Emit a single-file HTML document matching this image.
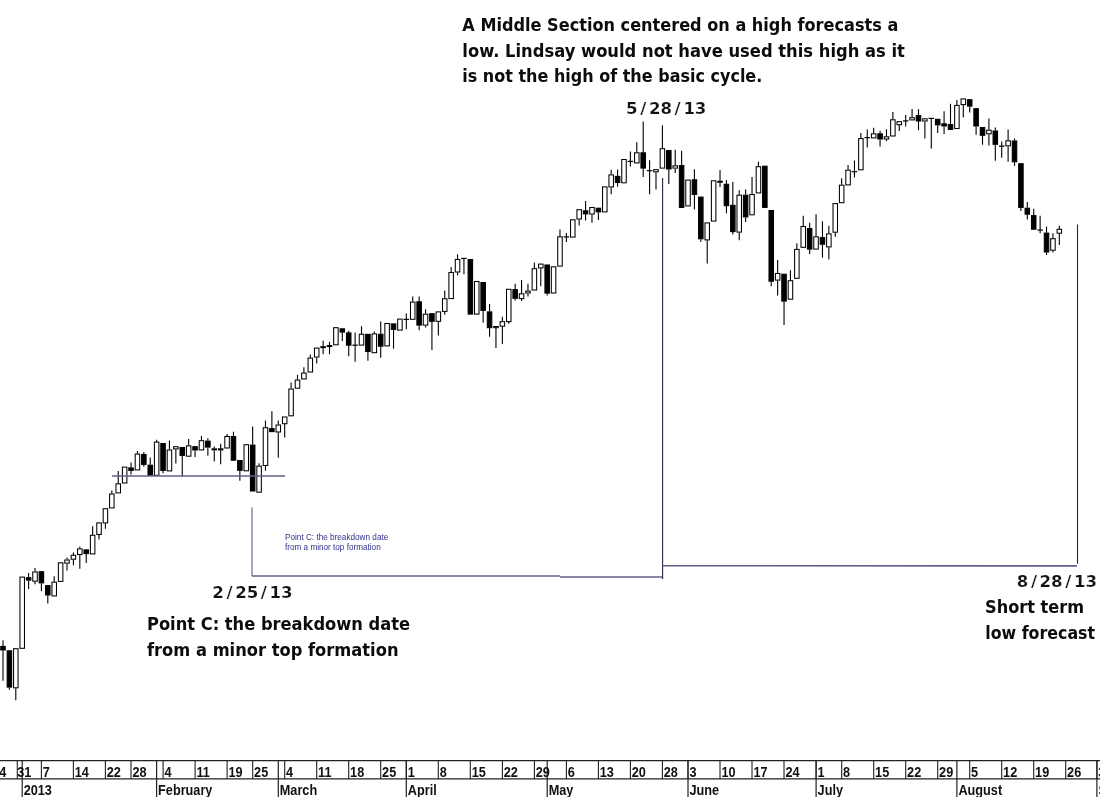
<!DOCTYPE html>
<html lang="en"><head><meta charset="utf-8"><title>Middle Section forecast chart</title>
<style>
html,body{margin:0;padding:0;background:#fff;}
body{width:1100px;height:797px;overflow:hidden;position:relative;}
svg{position:absolute;left:0;top:0;display:block;}
#all{filter:blur(0.3px);}
.ann{font-family:"DejaVu Sans",sans-serif;font-weight:bold;font-size:16.9px;fill:#0c0c0c;}
.date{font-family:"DejaVu Sans",sans-serif;font-weight:bold;font-size:16.6px;fill:#111;stroke:#fff;stroke-width:0.2px;}
.sl{font-size:19.5px;}
.ax{font-family:"Liberation Sans",sans-serif;font-weight:bold;font-size:14.6px;fill:#111;}
.sm{font-family:"Liberation Sans",sans-serif;font-size:8.8px;fill:#30308c;}
</style></head><body>
<svg width="1100" height="797" viewBox="0 0 1100 797">
<rect x="0" y="0" width="1100" height="797" fill="#ffffff"/>
<g id="all">
<g id="candles">
<line x1="3.00" y1="640.2" x2="3.00" y2="646.0" stroke="#000" stroke-width="1.1"/>
<line x1="3.00" y1="650.4" x2="3.00" y2="680.7" stroke="#000" stroke-width="1.1"/>
<rect x="0.75" y="646.4" width="4.5" height="3.6" fill="#000" stroke="#000" stroke-width="1.05"/>
<line x1="9.40" y1="687.5" x2="9.40" y2="689.7" stroke="#000" stroke-width="1.1"/>
<rect x="7.15" y="650.8" width="4.5" height="36.3" fill="#000" stroke="#000" stroke-width="1.05"/>
<line x1="15.80" y1="688.2" x2="15.80" y2="700.3" stroke="#000" stroke-width="1.1"/>
<rect x="13.55" y="648.7" width="4.5" height="39.1" fill="#fff" stroke="#000" stroke-width="1.05"/>
<rect x="19.96" y="577.1" width="4.5" height="71.2" fill="#fff" stroke="#000" stroke-width="1.05"/>
<line x1="28.61" y1="573.0" x2="28.61" y2="577.3" stroke="#000" stroke-width="1.1"/>
<line x1="28.61" y1="580.5" x2="28.61" y2="589.0" stroke="#000" stroke-width="1.1"/>
<rect x="26.36" y="577.7" width="4.5" height="2.4" fill="#000" stroke="#000" stroke-width="1.05"/>
<line x1="35.01" y1="568.1" x2="35.01" y2="571.6" stroke="#000" stroke-width="1.1"/>
<line x1="35.01" y1="581.6" x2="35.01" y2="584.3" stroke="#000" stroke-width="1.1"/>
<rect x="32.76" y="572.0" width="4.5" height="9.2" fill="#fff" stroke="#000" stroke-width="1.05"/>
<line x1="41.41" y1="583.3" x2="41.41" y2="591.2" stroke="#000" stroke-width="1.1"/>
<rect x="39.16" y="571.7" width="4.5" height="11.2" fill="#000" stroke="#000" stroke-width="1.05"/>
<line x1="47.81" y1="595.4" x2="47.81" y2="603.5" stroke="#000" stroke-width="1.1"/>
<rect x="45.56" y="585.6" width="4.5" height="9.4" fill="#000" stroke="#000" stroke-width="1.05"/>
<line x1="54.22" y1="576.2" x2="54.22" y2="581.8" stroke="#000" stroke-width="1.1"/>
<rect x="51.97" y="582.2" width="4.5" height="13.7" fill="#fff" stroke="#000" stroke-width="1.05"/>
<rect x="58.37" y="562.8" width="4.5" height="18.6" fill="#fff" stroke="#000" stroke-width="1.05"/>
<line x1="67.02" y1="557.5" x2="67.02" y2="559.6" stroke="#000" stroke-width="1.1"/>
<line x1="67.02" y1="563.5" x2="67.02" y2="570.5" stroke="#000" stroke-width="1.1"/>
<rect x="64.77" y="560.0" width="4.5" height="3.1" fill="#fff" stroke="#000" stroke-width="1.05"/>
<line x1="73.42" y1="552.4" x2="73.42" y2="554.9" stroke="#000" stroke-width="1.1"/>
<line x1="73.42" y1="559.6" x2="73.42" y2="565.2" stroke="#000" stroke-width="1.1"/>
<rect x="71.17" y="555.3" width="4.5" height="3.9" fill="#fff" stroke="#000" stroke-width="1.05"/>
<line x1="79.82" y1="546.4" x2="79.82" y2="548.5" stroke="#000" stroke-width="1.1"/>
<line x1="79.82" y1="554.9" x2="79.82" y2="568.8" stroke="#000" stroke-width="1.1"/>
<rect x="77.57" y="548.9" width="4.5" height="5.6" fill="#fff" stroke="#000" stroke-width="1.05"/>
<line x1="86.23" y1="554.0" x2="86.23" y2="563.0" stroke="#000" stroke-width="1.1"/>
<rect x="83.98" y="549.9" width="4.5" height="3.7" fill="#000" stroke="#000" stroke-width="1.05"/>
<line x1="92.63" y1="526.3" x2="92.63" y2="534.9" stroke="#000" stroke-width="1.1"/>
<rect x="90.38" y="535.3" width="4.5" height="18.6" fill="#fff" stroke="#000" stroke-width="1.05"/>
<line x1="99.03" y1="534.9" x2="99.03" y2="539.6" stroke="#000" stroke-width="1.1"/>
<rect x="96.78" y="522.9" width="4.5" height="11.6" fill="#fff" stroke="#000" stroke-width="1.05"/>
<line x1="105.43" y1="523.3" x2="105.43" y2="528.7" stroke="#000" stroke-width="1.1"/>
<rect x="103.18" y="508.7" width="4.5" height="14.2" fill="#fff" stroke="#000" stroke-width="1.05"/>
<line x1="111.83" y1="490.4" x2="111.83" y2="493.6" stroke="#000" stroke-width="1.1"/>
<rect x="109.58" y="494.0" width="4.5" height="13.9" fill="#fff" stroke="#000" stroke-width="1.05"/>
<line x1="118.24" y1="471.1" x2="118.24" y2="483.4" stroke="#000" stroke-width="1.1"/>
<rect x="115.99" y="483.8" width="4.5" height="9.1" fill="#fff" stroke="#000" stroke-width="1.05"/>
<rect x="122.39" y="467.1" width="4.5" height="15.9" fill="#fff" stroke="#000" stroke-width="1.05"/>
<line x1="131.04" y1="462.6" x2="131.04" y2="467.5" stroke="#000" stroke-width="1.1"/>
<line x1="131.04" y1="470.8" x2="131.04" y2="474.4" stroke="#000" stroke-width="1.1"/>
<rect x="128.79" y="467.9" width="4.5" height="2.5" fill="#000" stroke="#000" stroke-width="1.05"/>
<line x1="137.44" y1="450.9" x2="137.44" y2="453.7" stroke="#000" stroke-width="1.1"/>
<rect x="135.19" y="454.1" width="4.5" height="15.8" fill="#fff" stroke="#000" stroke-width="1.05"/>
<line x1="143.84" y1="452.0" x2="143.84" y2="454.1" stroke="#000" stroke-width="1.1"/>
<line x1="143.84" y1="464.8" x2="143.84" y2="466.7" stroke="#000" stroke-width="1.1"/>
<rect x="141.59" y="454.5" width="4.5" height="9.9" fill="#000" stroke="#000" stroke-width="1.05"/>
<line x1="150.25" y1="457.4" x2="150.25" y2="464.8" stroke="#000" stroke-width="1.1"/>
<rect x="148.00" y="465.2" width="4.5" height="10.1" fill="#000" stroke="#000" stroke-width="1.05"/>
<line x1="156.65" y1="439.8" x2="156.65" y2="441.7" stroke="#000" stroke-width="1.1"/>
<rect x="154.40" y="442.1" width="4.5" height="33.2" fill="#fff" stroke="#000" stroke-width="1.05"/>
<line x1="163.05" y1="470.8" x2="163.05" y2="473.2" stroke="#000" stroke-width="1.1"/>
<rect x="160.80" y="443.5" width="4.5" height="26.9" fill="#000" stroke="#000" stroke-width="1.05"/>
<line x1="169.45" y1="440.6" x2="169.45" y2="449.6" stroke="#000" stroke-width="1.1"/>
<rect x="167.20" y="450.0" width="4.5" height="20.9" fill="#fff" stroke="#000" stroke-width="1.05"/>
<line x1="175.85" y1="449.3" x2="175.85" y2="463.4" stroke="#000" stroke-width="1.1"/>
<rect x="173.60" y="446.7" width="4.5" height="2.2" fill="#fff" stroke="#000" stroke-width="1.05"/>
<line x1="182.26" y1="455.8" x2="182.26" y2="476.2" stroke="#000" stroke-width="1.1"/>
<rect x="180.01" y="447.5" width="4.5" height="7.9" fill="#000" stroke="#000" stroke-width="1.05"/>
<line x1="188.66" y1="439.0" x2="188.66" y2="445.5" stroke="#000" stroke-width="1.1"/>
<rect x="186.41" y="445.9" width="4.5" height="10.3" fill="#fff" stroke="#000" stroke-width="1.05"/>
<line x1="195.06" y1="450.4" x2="195.06" y2="456.9" stroke="#000" stroke-width="1.1"/>
<rect x="192.81" y="446.7" width="4.5" height="3.3" fill="#000" stroke="#000" stroke-width="1.05"/>
<line x1="201.46" y1="436.0" x2="201.46" y2="440.3" stroke="#000" stroke-width="1.1"/>
<rect x="199.21" y="440.7" width="4.5" height="9.2" fill="#fff" stroke="#000" stroke-width="1.05"/>
<line x1="207.86" y1="438.2" x2="207.86" y2="440.7" stroke="#000" stroke-width="1.1"/>
<line x1="207.86" y1="447.5" x2="207.86" y2="455.7" stroke="#000" stroke-width="1.1"/>
<rect x="205.61" y="441.1" width="4.5" height="6.0" fill="#000" stroke="#000" stroke-width="1.05"/>
<line x1="214.27" y1="446.4" x2="214.27" y2="448.5" stroke="#000" stroke-width="1.1"/>
<line x1="214.27" y1="450.2" x2="214.27" y2="461.6" stroke="#000" stroke-width="1.1"/>
<rect x="212.02" y="448.9" width="4.5" height="0.9" fill="#000" stroke="#000" stroke-width="1.05"/>
<line x1="220.67" y1="443.8" x2="220.67" y2="448.4" stroke="#000" stroke-width="1.1"/>
<line x1="220.67" y1="450.3" x2="220.67" y2="464.2" stroke="#000" stroke-width="1.1"/>
<rect x="218.42" y="448.8" width="4.5" height="1.1" fill="#fff" stroke="#000" stroke-width="1.05"/>
<line x1="227.07" y1="434.1" x2="227.07" y2="436.1" stroke="#000" stroke-width="1.1"/>
<rect x="224.82" y="436.5" width="4.5" height="11.5" fill="#fff" stroke="#000" stroke-width="1.05"/>
<line x1="233.47" y1="431.7" x2="233.47" y2="436.1" stroke="#000" stroke-width="1.1"/>
<rect x="231.22" y="436.5" width="4.5" height="23.7" fill="#000" stroke="#000" stroke-width="1.05"/>
<line x1="239.87" y1="470.7" x2="239.87" y2="480.8" stroke="#000" stroke-width="1.1"/>
<rect x="237.62" y="460.5" width="4.5" height="9.8" fill="#000" stroke="#000" stroke-width="1.05"/>
<rect x="244.03" y="444.7" width="4.5" height="26.1" fill="#fff" stroke="#000" stroke-width="1.05"/>
<line x1="252.68" y1="426.4" x2="252.68" y2="444.7" stroke="#000" stroke-width="1.1"/>
<rect x="250.43" y="445.1" width="4.5" height="45.9" fill="#000" stroke="#000" stroke-width="1.05"/>
<line x1="259.08" y1="463.3" x2="259.08" y2="465.7" stroke="#000" stroke-width="1.1"/>
<rect x="256.83" y="466.1" width="4.5" height="26.1" fill="#fff" stroke="#000" stroke-width="1.05"/>
<line x1="265.48" y1="420.6" x2="265.48" y2="427.3" stroke="#000" stroke-width="1.1"/>
<line x1="265.48" y1="465.9" x2="265.48" y2="470.7" stroke="#000" stroke-width="1.1"/>
<rect x="263.23" y="427.7" width="4.5" height="37.8" fill="#fff" stroke="#000" stroke-width="1.05"/>
<line x1="271.88" y1="411.3" x2="271.88" y2="428.2" stroke="#000" stroke-width="1.1"/>
<rect x="269.63" y="428.6" width="4.5" height="3.0" fill="#000" stroke="#000" stroke-width="1.05"/>
<line x1="278.29" y1="420.6" x2="278.29" y2="424.6" stroke="#000" stroke-width="1.1"/>
<line x1="278.29" y1="432.4" x2="278.29" y2="457.8" stroke="#000" stroke-width="1.1"/>
<rect x="276.04" y="425.0" width="4.5" height="7.0" fill="#fff" stroke="#000" stroke-width="1.05"/>
<line x1="284.69" y1="424.1" x2="284.69" y2="437.6" stroke="#000" stroke-width="1.1"/>
<rect x="282.44" y="417.0" width="4.5" height="6.7" fill="#fff" stroke="#000" stroke-width="1.05"/>
<line x1="291.09" y1="382.4" x2="291.09" y2="388.6" stroke="#000" stroke-width="1.1"/>
<rect x="288.84" y="389.0" width="4.5" height="26.8" fill="#fff" stroke="#000" stroke-width="1.05"/>
<line x1="297.49" y1="374.9" x2="297.49" y2="379.7" stroke="#000" stroke-width="1.1"/>
<rect x="295.24" y="380.1" width="4.5" height="8.1" fill="#fff" stroke="#000" stroke-width="1.05"/>
<line x1="303.89" y1="367.3" x2="303.89" y2="372.7" stroke="#000" stroke-width="1.1"/>
<rect x="301.64" y="373.1" width="4.5" height="5.9" fill="#fff" stroke="#000" stroke-width="1.05"/>
<line x1="310.30" y1="354.6" x2="310.30" y2="357.7" stroke="#000" stroke-width="1.1"/>
<rect x="308.05" y="358.1" width="4.5" height="13.9" fill="#fff" stroke="#000" stroke-width="1.05"/>
<line x1="316.70" y1="357.4" x2="316.70" y2="363.6" stroke="#000" stroke-width="1.1"/>
<rect x="314.45" y="348.1" width="4.5" height="8.9" fill="#fff" stroke="#000" stroke-width="1.05"/>
<line x1="323.10" y1="340.8" x2="323.10" y2="346.3" stroke="#000" stroke-width="1.1"/>
<line x1="323.10" y1="347.7" x2="323.10" y2="354.2" stroke="#000" stroke-width="1.1"/>
<rect x="320.85" y="346.7" width="4.5" height="0.9" fill="#000" stroke="#000" stroke-width="1.05"/>
<line x1="329.50" y1="341.8" x2="329.50" y2="345.2" stroke="#000" stroke-width="1.1"/>
<line x1="329.50" y1="346.6" x2="329.50" y2="354.2" stroke="#000" stroke-width="1.1"/>
<rect x="327.25" y="345.6" width="4.5" height="0.9" fill="#000" stroke="#000" stroke-width="1.05"/>
<rect x="333.65" y="327.7" width="4.5" height="17.1" fill="#fff" stroke="#000" stroke-width="1.05"/>
<line x1="342.31" y1="332.5" x2="342.31" y2="341.1" stroke="#000" stroke-width="1.1"/>
<rect x="340.06" y="328.8" width="4.5" height="3.3" fill="#000" stroke="#000" stroke-width="1.05"/>
<line x1="348.71" y1="330.7" x2="348.71" y2="332.5" stroke="#000" stroke-width="1.1"/>
<line x1="348.71" y1="345.6" x2="348.71" y2="356.3" stroke="#000" stroke-width="1.1"/>
<rect x="346.46" y="332.9" width="4.5" height="12.3" fill="#000" stroke="#000" stroke-width="1.05"/>
<line x1="355.11" y1="332.5" x2="355.11" y2="345.2" stroke="#000" stroke-width="1.1"/>
<line x1="355.11" y1="345.2" x2="355.11" y2="361.8" stroke="#000" stroke-width="1.1"/>
<line x1="352.36" y1="345.2" x2="357.86" y2="345.2" stroke="#000" stroke-width="1.2"/>
<line x1="361.51" y1="326.2" x2="361.51" y2="333.9" stroke="#000" stroke-width="1.1"/>
<rect x="359.26" y="334.3" width="4.5" height="10.8" fill="#fff" stroke="#000" stroke-width="1.05"/>
<line x1="367.91" y1="351.9" x2="367.91" y2="360.7" stroke="#000" stroke-width="1.1"/>
<rect x="365.66" y="334.3" width="4.5" height="17.2" fill="#000" stroke="#000" stroke-width="1.05"/>
<line x1="374.32" y1="331.4" x2="374.32" y2="333.5" stroke="#000" stroke-width="1.1"/>
<rect x="372.07" y="333.9" width="4.5" height="18.8" fill="#fff" stroke="#000" stroke-width="1.05"/>
<line x1="380.72" y1="321.5" x2="380.72" y2="333.9" stroke="#000" stroke-width="1.1"/>
<line x1="380.72" y1="346.6" x2="380.72" y2="357.7" stroke="#000" stroke-width="1.1"/>
<rect x="378.47" y="334.3" width="4.5" height="11.9" fill="#000" stroke="#000" stroke-width="1.05"/>
<rect x="384.87" y="323.5" width="4.5" height="22.4" fill="#fff" stroke="#000" stroke-width="1.05"/>
<line x1="393.52" y1="329.8" x2="393.52" y2="348.7" stroke="#000" stroke-width="1.1"/>
<rect x="391.27" y="323.9" width="4.5" height="5.5" fill="#000" stroke="#000" stroke-width="1.05"/>
<rect x="397.67" y="319.1" width="4.5" height="11.0" fill="#fff" stroke="#000" stroke-width="1.05"/>
<line x1="406.33" y1="313.5" x2="406.33" y2="319.4" stroke="#000" stroke-width="1.1"/>
<line x1="406.33" y1="319.4" x2="406.33" y2="329.3" stroke="#000" stroke-width="1.1"/>
<line x1="403.58" y1="319.4" x2="409.08" y2="319.4" stroke="#000" stroke-width="1.2"/>
<line x1="412.73" y1="296.6" x2="412.73" y2="301.7" stroke="#000" stroke-width="1.1"/>
<rect x="410.48" y="302.1" width="4.5" height="17.2" fill="#fff" stroke="#000" stroke-width="1.05"/>
<line x1="419.13" y1="296.5" x2="419.13" y2="301.4" stroke="#000" stroke-width="1.1"/>
<line x1="419.13" y1="325.5" x2="419.13" y2="330.3" stroke="#000" stroke-width="1.1"/>
<rect x="416.88" y="301.8" width="4.5" height="23.3" fill="#000" stroke="#000" stroke-width="1.05"/>
<line x1="425.53" y1="309.2" x2="425.53" y2="313.8" stroke="#000" stroke-width="1.1"/>
<line x1="425.53" y1="325.5" x2="425.53" y2="327.6" stroke="#000" stroke-width="1.1"/>
<rect x="423.28" y="314.2" width="4.5" height="10.9" fill="#fff" stroke="#000" stroke-width="1.05"/>
<line x1="431.93" y1="321.7" x2="431.93" y2="349.9" stroke="#000" stroke-width="1.1"/>
<rect x="429.68" y="313.7" width="4.5" height="7.6" fill="#000" stroke="#000" stroke-width="1.05"/>
<line x1="438.34" y1="321.7" x2="438.34" y2="335.6" stroke="#000" stroke-width="1.1"/>
<rect x="436.09" y="311.9" width="4.5" height="9.4" fill="#fff" stroke="#000" stroke-width="1.05"/>
<line x1="444.74" y1="290.4" x2="444.74" y2="298.4" stroke="#000" stroke-width="1.1"/>
<line x1="444.74" y1="311.8" x2="444.74" y2="314.8" stroke="#000" stroke-width="1.1"/>
<rect x="442.49" y="298.8" width="4.5" height="12.6" fill="#fff" stroke="#000" stroke-width="1.05"/>
<line x1="451.14" y1="267.1" x2="451.14" y2="272.1" stroke="#000" stroke-width="1.1"/>
<rect x="448.89" y="272.5" width="4.5" height="26.1" fill="#fff" stroke="#000" stroke-width="1.05"/>
<line x1="457.54" y1="254.3" x2="457.54" y2="259.1" stroke="#000" stroke-width="1.1"/>
<line x1="457.54" y1="272.4" x2="457.54" y2="275.4" stroke="#000" stroke-width="1.1"/>
<rect x="455.29" y="259.5" width="4.5" height="12.5" fill="#fff" stroke="#000" stroke-width="1.05"/>
<line x1="463.94" y1="258.4" x2="463.94" y2="274.3" stroke="#000" stroke-width="1.1"/>
<line x1="461.19" y1="258.4" x2="466.69" y2="258.4" stroke="#000" stroke-width="1.2"/>
<rect x="468.10" y="259.5" width="4.5" height="54.6" fill="#000" stroke="#000" stroke-width="1.05"/>
<rect x="474.50" y="281.5" width="4.5" height="32.6" fill="#fff" stroke="#000" stroke-width="1.05"/>
<line x1="483.15" y1="310.8" x2="483.15" y2="322.8" stroke="#000" stroke-width="1.1"/>
<rect x="480.90" y="282.5" width="4.5" height="27.9" fill="#000" stroke="#000" stroke-width="1.05"/>
<line x1="489.55" y1="304.0" x2="489.55" y2="311.5" stroke="#000" stroke-width="1.1"/>
<line x1="489.55" y1="328.1" x2="489.55" y2="336.8" stroke="#000" stroke-width="1.1"/>
<rect x="487.30" y="311.9" width="4.5" height="15.8" fill="#000" stroke="#000" stroke-width="1.05"/>
<line x1="495.95" y1="328.1" x2="495.95" y2="348.1" stroke="#000" stroke-width="1.1"/>
<rect x="493.70" y="326.5" width="4.5" height="1.2" fill="#fff" stroke="#000" stroke-width="1.05"/>
<line x1="502.36" y1="316.8" x2="502.36" y2="321.3" stroke="#000" stroke-width="1.1"/>
<line x1="502.36" y1="326.6" x2="502.36" y2="343.9" stroke="#000" stroke-width="1.1"/>
<rect x="500.11" y="321.7" width="4.5" height="4.5" fill="#fff" stroke="#000" stroke-width="1.05"/>
<line x1="508.76" y1="322.0" x2="508.76" y2="323.8" stroke="#000" stroke-width="1.1"/>
<rect x="506.51" y="289.3" width="4.5" height="32.3" fill="#fff" stroke="#000" stroke-width="1.05"/>
<line x1="515.16" y1="283.7" x2="515.16" y2="289.2" stroke="#000" stroke-width="1.1"/>
<line x1="515.16" y1="298.7" x2="515.16" y2="300.5" stroke="#000" stroke-width="1.1"/>
<rect x="512.91" y="289.6" width="4.5" height="8.7" fill="#000" stroke="#000" stroke-width="1.05"/>
<line x1="521.56" y1="279.9" x2="521.56" y2="293.4" stroke="#000" stroke-width="1.1"/>
<line x1="521.56" y1="299.0" x2="521.56" y2="301.0" stroke="#000" stroke-width="1.1"/>
<rect x="519.31" y="293.8" width="4.5" height="4.8" fill="#fff" stroke="#000" stroke-width="1.05"/>
<line x1="527.96" y1="283.7" x2="527.96" y2="290.7" stroke="#000" stroke-width="1.1"/>
<line x1="527.96" y1="293.4" x2="527.96" y2="296.5" stroke="#000" stroke-width="1.1"/>
<rect x="525.71" y="291.1" width="4.5" height="1.9" fill="#fff" stroke="#000" stroke-width="1.05"/>
<line x1="534.37" y1="262.6" x2="534.37" y2="268.3" stroke="#000" stroke-width="1.1"/>
<rect x="532.12" y="268.7" width="4.5" height="21.3" fill="#fff" stroke="#000" stroke-width="1.05"/>
<line x1="540.77" y1="268.3" x2="540.77" y2="286.2" stroke="#000" stroke-width="1.1"/>
<rect x="538.52" y="264.1" width="4.5" height="3.8" fill="#fff" stroke="#000" stroke-width="1.05"/>
<line x1="547.17" y1="293.5" x2="547.17" y2="295.4" stroke="#000" stroke-width="1.1"/>
<rect x="544.92" y="265.0" width="4.5" height="28.1" fill="#000" stroke="#000" stroke-width="1.05"/>
<rect x="551.32" y="266.8" width="4.5" height="26.2" fill="#fff" stroke="#000" stroke-width="1.05"/>
<line x1="559.97" y1="229.4" x2="559.97" y2="236.4" stroke="#000" stroke-width="1.1"/>
<rect x="557.72" y="236.8" width="4.5" height="29.3" fill="#fff" stroke="#000" stroke-width="1.05"/>
<line x1="566.38" y1="233.0" x2="566.38" y2="236.9" stroke="#000" stroke-width="1.1"/>
<line x1="566.38" y1="236.9" x2="566.38" y2="242.0" stroke="#000" stroke-width="1.1"/>
<line x1="563.63" y1="236.9" x2="569.13" y2="236.9" stroke="#000" stroke-width="1.2"/>
<rect x="570.53" y="219.8" width="4.5" height="17.3" fill="#fff" stroke="#000" stroke-width="1.05"/>
<line x1="579.18" y1="219.4" x2="579.18" y2="225.6" stroke="#000" stroke-width="1.1"/>
<rect x="576.93" y="209.7" width="4.5" height="9.3" fill="#fff" stroke="#000" stroke-width="1.05"/>
<line x1="585.58" y1="201.1" x2="585.58" y2="210.4" stroke="#000" stroke-width="1.1"/>
<line x1="585.58" y1="214.3" x2="585.58" y2="220.6" stroke="#000" stroke-width="1.1"/>
<rect x="583.33" y="210.8" width="4.5" height="3.1" fill="#000" stroke="#000" stroke-width="1.05"/>
<line x1="591.98" y1="214.4" x2="591.98" y2="222.7" stroke="#000" stroke-width="1.1"/>
<rect x="589.73" y="207.5" width="4.5" height="6.5" fill="#fff" stroke="#000" stroke-width="1.05"/>
<line x1="598.39" y1="212.3" x2="598.39" y2="219.9" stroke="#000" stroke-width="1.1"/>
<rect x="596.14" y="208.2" width="4.5" height="3.7" fill="#000" stroke="#000" stroke-width="1.05"/>
<rect x="602.54" y="186.9" width="4.5" height="25.0" fill="#fff" stroke="#000" stroke-width="1.05"/>
<line x1="611.19" y1="169.7" x2="611.19" y2="174.5" stroke="#000" stroke-width="1.1"/>
<line x1="611.19" y1="187.3" x2="611.19" y2="194.2" stroke="#000" stroke-width="1.1"/>
<rect x="608.94" y="174.9" width="4.5" height="12.0" fill="#fff" stroke="#000" stroke-width="1.05"/>
<line x1="617.59" y1="169.4" x2="617.59" y2="176.0" stroke="#000" stroke-width="1.1"/>
<line x1="617.59" y1="182.9" x2="617.59" y2="186.7" stroke="#000" stroke-width="1.1"/>
<rect x="615.34" y="176.4" width="4.5" height="6.1" fill="#000" stroke="#000" stroke-width="1.05"/>
<rect x="621.74" y="159.5" width="4.5" height="23.3" fill="#fff" stroke="#000" stroke-width="1.05"/>
<line x1="630.40" y1="151.6" x2="630.40" y2="161.4" stroke="#000" stroke-width="1.1"/>
<line x1="630.40" y1="161.4" x2="630.40" y2="166.4" stroke="#000" stroke-width="1.1"/>
<line x1="627.65" y1="161.4" x2="633.15" y2="161.4" stroke="#000" stroke-width="1.2"/>
<line x1="636.80" y1="142.3" x2="636.80" y2="152.4" stroke="#000" stroke-width="1.1"/>
<rect x="634.55" y="152.8" width="4.5" height="10.1" fill="#fff" stroke="#000" stroke-width="1.05"/>
<line x1="643.20" y1="121.5" x2="643.20" y2="152.4" stroke="#000" stroke-width="1.1"/>
<line x1="643.20" y1="168.5" x2="643.20" y2="176.9" stroke="#000" stroke-width="1.1"/>
<rect x="640.95" y="152.8" width="4.5" height="15.3" fill="#000" stroke="#000" stroke-width="1.05"/>
<line x1="649.60" y1="160.3" x2="649.60" y2="170.7" stroke="#000" stroke-width="1.1"/>
<line x1="649.60" y1="170.7" x2="649.60" y2="194.2" stroke="#000" stroke-width="1.1"/>
<line x1="646.85" y1="170.7" x2="652.35" y2="170.7" stroke="#000" stroke-width="1.2"/>
<line x1="656.00" y1="172.2" x2="656.00" y2="189.5" stroke="#000" stroke-width="1.1"/>
<rect x="653.75" y="169.6" width="4.5" height="2.2" fill="#fff" stroke="#000" stroke-width="1.05"/>
<line x1="662.41" y1="125.3" x2="662.41" y2="148.3" stroke="#000" stroke-width="1.1"/>
<rect x="660.16" y="148.7" width="4.5" height="19.4" fill="#fff" stroke="#000" stroke-width="1.05"/>
<line x1="668.81" y1="169.4" x2="668.81" y2="184.0" stroke="#000" stroke-width="1.1"/>
<rect x="666.56" y="150.5" width="4.5" height="18.5" fill="#000" stroke="#000" stroke-width="1.05"/>
<line x1="675.21" y1="149.8" x2="675.21" y2="165.4" stroke="#000" stroke-width="1.1"/>
<line x1="675.21" y1="168.5" x2="675.21" y2="173.0" stroke="#000" stroke-width="1.1"/>
<rect x="672.96" y="165.8" width="4.5" height="2.3" fill="#fff" stroke="#000" stroke-width="1.05"/>
<line x1="681.61" y1="150.8" x2="681.61" y2="165.1" stroke="#000" stroke-width="1.1"/>
<rect x="679.36" y="165.5" width="4.5" height="41.9" fill="#000" stroke="#000" stroke-width="1.05"/>
<rect x="685.76" y="180.1" width="4.5" height="25.8" fill="#fff" stroke="#000" stroke-width="1.05"/>
<line x1="694.42" y1="169.3" x2="694.42" y2="179.4" stroke="#000" stroke-width="1.1"/>
<line x1="694.42" y1="194.8" x2="694.42" y2="209.6" stroke="#000" stroke-width="1.1"/>
<rect x="692.17" y="179.8" width="4.5" height="14.6" fill="#000" stroke="#000" stroke-width="1.05"/>
<line x1="700.82" y1="239.2" x2="700.82" y2="242.1" stroke="#000" stroke-width="1.1"/>
<rect x="698.57" y="197.1" width="4.5" height="41.7" fill="#000" stroke="#000" stroke-width="1.05"/>
<line x1="707.22" y1="240.3" x2="707.22" y2="263.6" stroke="#000" stroke-width="1.1"/>
<rect x="704.97" y="222.9" width="4.5" height="17.0" fill="#fff" stroke="#000" stroke-width="1.05"/>
<rect x="711.37" y="180.8" width="4.5" height="40.3" fill="#fff" stroke="#000" stroke-width="1.05"/>
<line x1="720.02" y1="170.0" x2="720.02" y2="180.9" stroke="#000" stroke-width="1.1"/>
<line x1="720.02" y1="182.4" x2="720.02" y2="186.9" stroke="#000" stroke-width="1.1"/>
<rect x="717.77" y="181.3" width="4.5" height="0.9" fill="#000" stroke="#000" stroke-width="1.05"/>
<line x1="726.43" y1="180.1" x2="726.43" y2="183.9" stroke="#000" stroke-width="1.1"/>
<line x1="726.43" y1="206.1" x2="726.43" y2="213.2" stroke="#000" stroke-width="1.1"/>
<rect x="724.18" y="184.3" width="4.5" height="21.4" fill="#000" stroke="#000" stroke-width="1.05"/>
<line x1="732.83" y1="182.1" x2="732.83" y2="204.9" stroke="#000" stroke-width="1.1"/>
<line x1="732.83" y1="232.0" x2="732.83" y2="234.6" stroke="#000" stroke-width="1.1"/>
<rect x="730.58" y="205.3" width="4.5" height="26.3" fill="#000" stroke="#000" stroke-width="1.05"/>
<line x1="739.23" y1="190.3" x2="739.23" y2="194.8" stroke="#000" stroke-width="1.1"/>
<line x1="739.23" y1="232.5" x2="739.23" y2="240.3" stroke="#000" stroke-width="1.1"/>
<rect x="736.98" y="195.2" width="4.5" height="36.9" fill="#fff" stroke="#000" stroke-width="1.05"/>
<line x1="745.63" y1="189.4" x2="745.63" y2="194.8" stroke="#000" stroke-width="1.1"/>
<line x1="745.63" y1="217.3" x2="745.63" y2="221.9" stroke="#000" stroke-width="1.1"/>
<rect x="743.38" y="195.2" width="4.5" height="21.7" fill="#000" stroke="#000" stroke-width="1.05"/>
<line x1="752.03" y1="177.1" x2="752.03" y2="194.1" stroke="#000" stroke-width="1.1"/>
<rect x="749.78" y="194.5" width="4.5" height="20.3" fill="#fff" stroke="#000" stroke-width="1.05"/>
<line x1="758.44" y1="161.7" x2="758.44" y2="166.3" stroke="#000" stroke-width="1.1"/>
<rect x="756.19" y="166.7" width="4.5" height="26.2" fill="#fff" stroke="#000" stroke-width="1.05"/>
<rect x="762.59" y="166.2" width="4.5" height="41.2" fill="#000" stroke="#000" stroke-width="1.05"/>
<line x1="771.24" y1="281.6" x2="771.24" y2="286.2" stroke="#000" stroke-width="1.1"/>
<rect x="768.99" y="210.5" width="4.5" height="70.7" fill="#000" stroke="#000" stroke-width="1.05"/>
<line x1="777.64" y1="260.1" x2="777.64" y2="273.1" stroke="#000" stroke-width="1.1"/>
<line x1="777.64" y1="280.5" x2="777.64" y2="295.5" stroke="#000" stroke-width="1.1"/>
<rect x="775.39" y="273.5" width="4.5" height="6.6" fill="#fff" stroke="#000" stroke-width="1.05"/>
<line x1="784.04" y1="301.5" x2="784.04" y2="324.9" stroke="#000" stroke-width="1.1"/>
<rect x="781.79" y="274.2" width="4.5" height="26.9" fill="#000" stroke="#000" stroke-width="1.05"/>
<line x1="790.45" y1="270.2" x2="790.45" y2="280.3" stroke="#000" stroke-width="1.1"/>
<rect x="788.20" y="280.7" width="4.5" height="18.5" fill="#fff" stroke="#000" stroke-width="1.05"/>
<line x1="796.85" y1="243.3" x2="796.85" y2="249.0" stroke="#000" stroke-width="1.1"/>
<rect x="794.60" y="249.4" width="4.5" height="28.9" fill="#fff" stroke="#000" stroke-width="1.05"/>
<line x1="803.25" y1="215.8" x2="803.25" y2="226.1" stroke="#000" stroke-width="1.1"/>
<rect x="801.00" y="226.5" width="4.5" height="20.8" fill="#fff" stroke="#000" stroke-width="1.05"/>
<line x1="809.65" y1="222.8" x2="809.65" y2="228.1" stroke="#000" stroke-width="1.1"/>
<line x1="809.65" y1="249.5" x2="809.65" y2="253.9" stroke="#000" stroke-width="1.1"/>
<rect x="807.40" y="228.5" width="4.5" height="20.6" fill="#000" stroke="#000" stroke-width="1.05"/>
<line x1="816.05" y1="214.2" x2="816.05" y2="236.4" stroke="#000" stroke-width="1.1"/>
<rect x="813.80" y="236.8" width="4.5" height="12.3" fill="#fff" stroke="#000" stroke-width="1.05"/>
<line x1="822.46" y1="221.2" x2="822.46" y2="237.2" stroke="#000" stroke-width="1.1"/>
<line x1="822.46" y1="244.6" x2="822.46" y2="257.6" stroke="#000" stroke-width="1.1"/>
<rect x="820.21" y="237.6" width="4.5" height="6.6" fill="#000" stroke="#000" stroke-width="1.05"/>
<line x1="828.86" y1="225.8" x2="828.86" y2="233.5" stroke="#000" stroke-width="1.1"/>
<line x1="828.86" y1="247.3" x2="828.86" y2="259.6" stroke="#000" stroke-width="1.1"/>
<rect x="826.61" y="233.9" width="4.5" height="13.0" fill="#fff" stroke="#000" stroke-width="1.05"/>
<line x1="835.26" y1="232.6" x2="835.26" y2="236.7" stroke="#000" stroke-width="1.1"/>
<rect x="833.01" y="203.6" width="4.5" height="28.6" fill="#fff" stroke="#000" stroke-width="1.05"/>
<line x1="841.66" y1="178.2" x2="841.66" y2="184.8" stroke="#000" stroke-width="1.1"/>
<rect x="839.41" y="185.2" width="4.5" height="17.5" fill="#fff" stroke="#000" stroke-width="1.05"/>
<line x1="848.06" y1="165.0" x2="848.06" y2="169.8" stroke="#000" stroke-width="1.1"/>
<rect x="845.81" y="170.2" width="4.5" height="14.7" fill="#fff" stroke="#000" stroke-width="1.05"/>
<line x1="854.47" y1="160.5" x2="854.47" y2="171.7" stroke="#000" stroke-width="1.1"/>
<line x1="854.47" y1="171.7" x2="854.47" y2="177.5" stroke="#000" stroke-width="1.1"/>
<line x1="851.72" y1="171.7" x2="857.22" y2="171.7" stroke="#000" stroke-width="1.2"/>
<line x1="860.87" y1="133.1" x2="860.87" y2="138.2" stroke="#000" stroke-width="1.1"/>
<rect x="858.62" y="138.6" width="4.5" height="31.2" fill="#fff" stroke="#000" stroke-width="1.05"/>
<line x1="867.27" y1="129.6" x2="867.27" y2="137.6" stroke="#000" stroke-width="1.1"/>
<line x1="867.27" y1="137.6" x2="867.27" y2="147.4" stroke="#000" stroke-width="1.1"/>
<line x1="864.52" y1="137.6" x2="870.02" y2="137.6" stroke="#000" stroke-width="1.2"/>
<line x1="873.67" y1="127.8" x2="873.67" y2="133.4" stroke="#000" stroke-width="1.1"/>
<rect x="871.42" y="133.8" width="4.5" height="4.1" fill="#fff" stroke="#000" stroke-width="1.05"/>
<line x1="880.07" y1="130.7" x2="880.07" y2="133.4" stroke="#000" stroke-width="1.1"/>
<line x1="880.07" y1="139.4" x2="880.07" y2="146.6" stroke="#000" stroke-width="1.1"/>
<rect x="877.82" y="133.8" width="4.5" height="5.2" fill="#000" stroke="#000" stroke-width="1.05"/>
<line x1="886.48" y1="129.3" x2="886.48" y2="136.4" stroke="#000" stroke-width="1.1"/>
<line x1="886.48" y1="139.4" x2="886.48" y2="141.2" stroke="#000" stroke-width="1.1"/>
<rect x="884.23" y="136.8" width="4.5" height="2.2" fill="#fff" stroke="#000" stroke-width="1.05"/>
<line x1="892.88" y1="112.0" x2="892.88" y2="119.4" stroke="#000" stroke-width="1.1"/>
<rect x="890.63" y="119.8" width="4.5" height="16.2" fill="#fff" stroke="#000" stroke-width="1.05"/>
<line x1="899.28" y1="125.1" x2="899.28" y2="131.1" stroke="#000" stroke-width="1.1"/>
<rect x="897.03" y="121.7" width="4.5" height="3.0" fill="#fff" stroke="#000" stroke-width="1.05"/>
<line x1="905.68" y1="115.0" x2="905.68" y2="120.9" stroke="#000" stroke-width="1.1"/>
<line x1="905.68" y1="120.9" x2="905.68" y2="126.6" stroke="#000" stroke-width="1.1"/>
<line x1="902.93" y1="120.9" x2="908.43" y2="120.9" stroke="#000" stroke-width="1.2"/>
<line x1="912.08" y1="109.0" x2="912.08" y2="117.3" stroke="#000" stroke-width="1.1"/>
<rect x="909.83" y="117.7" width="4.5" height="2.2" fill="#fff" stroke="#000" stroke-width="1.05"/>
<line x1="918.49" y1="109.2" x2="918.49" y2="115.2" stroke="#000" stroke-width="1.1"/>
<line x1="918.49" y1="121.4" x2="918.49" y2="130.1" stroke="#000" stroke-width="1.1"/>
<rect x="916.24" y="115.6" width="4.5" height="5.4" fill="#000" stroke="#000" stroke-width="1.05"/>
<line x1="924.89" y1="121.4" x2="924.89" y2="138.4" stroke="#000" stroke-width="1.1"/>
<rect x="922.64" y="118.8" width="4.5" height="2.2" fill="#fff" stroke="#000" stroke-width="1.05"/>
<line x1="931.29" y1="118.4" x2="931.29" y2="148.5" stroke="#000" stroke-width="1.1"/>
<line x1="928.54" y1="118.4" x2="934.04" y2="118.4" stroke="#000" stroke-width="1.2"/>
<line x1="937.69" y1="125.3" x2="937.69" y2="132.9" stroke="#000" stroke-width="1.1"/>
<rect x="935.44" y="119.3" width="4.5" height="5.6" fill="#000" stroke="#000" stroke-width="1.05"/>
<line x1="944.09" y1="111.3" x2="944.09" y2="123.4" stroke="#000" stroke-width="1.1"/>
<line x1="944.09" y1="126.4" x2="944.09" y2="133.9" stroke="#000" stroke-width="1.1"/>
<rect x="941.84" y="123.8" width="4.5" height="2.2" fill="#000" stroke="#000" stroke-width="1.05"/>
<line x1="950.50" y1="103.8" x2="950.50" y2="124.1" stroke="#000" stroke-width="1.1"/>
<rect x="948.25" y="124.5" width="4.5" height="4.9" fill="#000" stroke="#000" stroke-width="1.05"/>
<line x1="956.90" y1="100.0" x2="956.90" y2="105.0" stroke="#000" stroke-width="1.1"/>
<rect x="954.65" y="105.4" width="4.5" height="23.1" fill="#fff" stroke="#000" stroke-width="1.05"/>
<line x1="963.30" y1="105.0" x2="963.30" y2="117.4" stroke="#000" stroke-width="1.1"/>
<rect x="961.05" y="98.9" width="4.5" height="5.7" fill="#fff" stroke="#000" stroke-width="1.05"/>
<line x1="969.70" y1="106.5" x2="969.70" y2="112.5" stroke="#000" stroke-width="1.1"/>
<rect x="967.45" y="99.7" width="4.5" height="6.4" fill="#000" stroke="#000" stroke-width="1.05"/>
<line x1="976.10" y1="126.4" x2="976.10" y2="134.7" stroke="#000" stroke-width="1.1"/>
<rect x="973.85" y="108.7" width="4.5" height="17.3" fill="#000" stroke="#000" stroke-width="1.05"/>
<line x1="982.51" y1="135.7" x2="982.51" y2="144.7" stroke="#000" stroke-width="1.1"/>
<rect x="980.26" y="127.5" width="4.5" height="7.8" fill="#000" stroke="#000" stroke-width="1.05"/>
<line x1="988.91" y1="118.4" x2="988.91" y2="129.8" stroke="#000" stroke-width="1.1"/>
<line x1="988.91" y1="134.2" x2="988.91" y2="145.6" stroke="#000" stroke-width="1.1"/>
<rect x="986.66" y="130.2" width="4.5" height="3.6" fill="#fff" stroke="#000" stroke-width="1.05"/>
<line x1="995.31" y1="127.6" x2="995.31" y2="130.6" stroke="#000" stroke-width="1.1"/>
<line x1="995.31" y1="144.7" x2="995.31" y2="160.7" stroke="#000" stroke-width="1.1"/>
<rect x="993.06" y="131.0" width="4.5" height="13.3" fill="#000" stroke="#000" stroke-width="1.05"/>
<line x1="1001.71" y1="141.4" x2="1001.71" y2="146.2" stroke="#000" stroke-width="1.1"/>
<line x1="1001.71" y1="146.2" x2="1001.71" y2="157.7" stroke="#000" stroke-width="1.1"/>
<line x1="998.96" y1="146.2" x2="1004.46" y2="146.2" stroke="#000" stroke-width="1.2"/>
<line x1="1008.11" y1="129.4" x2="1008.11" y2="140.4" stroke="#000" stroke-width="1.1"/>
<line x1="1008.11" y1="146.2" x2="1008.11" y2="161.7" stroke="#000" stroke-width="1.1"/>
<rect x="1005.86" y="140.8" width="4.5" height="5.0" fill="#fff" stroke="#000" stroke-width="1.05"/>
<line x1="1014.52" y1="138.4" x2="1014.52" y2="140.6" stroke="#000" stroke-width="1.1"/>
<line x1="1014.52" y1="162.2" x2="1014.52" y2="165.9" stroke="#000" stroke-width="1.1"/>
<rect x="1012.27" y="141.0" width="4.5" height="20.8" fill="#000" stroke="#000" stroke-width="1.05"/>
<line x1="1020.92" y1="207.8" x2="1020.92" y2="211.1" stroke="#000" stroke-width="1.1"/>
<rect x="1018.67" y="163.7" width="4.5" height="43.7" fill="#000" stroke="#000" stroke-width="1.05"/>
<line x1="1027.32" y1="202.0" x2="1027.32" y2="207.8" stroke="#000" stroke-width="1.1"/>
<line x1="1027.32" y1="214.6" x2="1027.32" y2="219.6" stroke="#000" stroke-width="1.1"/>
<rect x="1025.07" y="208.2" width="4.5" height="6.0" fill="#000" stroke="#000" stroke-width="1.05"/>
<line x1="1033.72" y1="208.7" x2="1033.72" y2="215.2" stroke="#000" stroke-width="1.1"/>
<rect x="1031.47" y="215.6" width="4.5" height="13.6" fill="#000" stroke="#000" stroke-width="1.05"/>
<line x1="1040.12" y1="215.7" x2="1040.12" y2="230.1" stroke="#000" stroke-width="1.1"/>
<line x1="1040.12" y1="230.1" x2="1040.12" y2="233.2" stroke="#000" stroke-width="1.1"/>
<line x1="1037.37" y1="230.1" x2="1042.87" y2="230.1" stroke="#000" stroke-width="1.2"/>
<line x1="1046.53" y1="226.6" x2="1046.53" y2="232.7" stroke="#000" stroke-width="1.1"/>
<line x1="1046.53" y1="252.4" x2="1046.53" y2="255.0" stroke="#000" stroke-width="1.1"/>
<rect x="1044.28" y="233.1" width="4.5" height="18.9" fill="#000" stroke="#000" stroke-width="1.05"/>
<line x1="1052.93" y1="233.2" x2="1052.93" y2="238.3" stroke="#000" stroke-width="1.1"/>
<line x1="1052.93" y1="250.6" x2="1052.93" y2="252.4" stroke="#000" stroke-width="1.1"/>
<rect x="1050.68" y="238.7" width="4.5" height="11.5" fill="#fff" stroke="#000" stroke-width="1.05"/>
<line x1="1059.33" y1="225.7" x2="1059.33" y2="228.9" stroke="#000" stroke-width="1.1"/>
<line x1="1059.33" y1="233.6" x2="1059.33" y2="245.0" stroke="#000" stroke-width="1.1"/>
<rect x="1057.08" y="229.3" width="4.5" height="3.9" fill="#fff" stroke="#000" stroke-width="1.05"/>
</g>
<g fill="none">
<line x1="112" y1="476" x2="285" y2="476" stroke="#606086" stroke-width="1.6"/>
<line x1="252" y1="507.5" x2="252" y2="576" stroke="#606086" stroke-width="1.1"/>
<line x1="252" y1="576" x2="560" y2="576" stroke="#606086" stroke-width="1.6"/>
<line x1="560" y1="577" x2="663" y2="577" stroke="#606086" stroke-width="1.6"/>
<line x1="662.6" y1="178" x2="662.6" y2="579" stroke="#262640" stroke-width="1.1"/>
<line x1="662.6" y1="565.8" x2="1077" y2="565.9" stroke="#606086" stroke-width="1.6"/>
<line x1="1077.5" y1="224.5" x2="1077.5" y2="563.8" stroke="#262640" stroke-width="1.1"/>
</g>
<g stroke="#222" stroke-width="1.1" fill="none">
<line x1="0" y1="760.6" x2="1100" y2="760.6"/>
<line x1="0" y1="778.9" x2="1100" y2="778.9"/>
<line x1="17.3" y1="760.6" x2="17.3" y2="778.9"/>
<line x1="41.4" y1="760.6" x2="41.4" y2="778.9"/>
<line x1="73.4" y1="760.6" x2="73.4" y2="778.9"/>
<line x1="105.4" y1="760.6" x2="105.4" y2="778.9"/>
<line x1="131.0" y1="760.6" x2="131.0" y2="778.9"/>
<line x1="163.1" y1="760.6" x2="163.1" y2="778.9"/>
<line x1="195.1" y1="760.6" x2="195.1" y2="778.9"/>
<line x1="227.1" y1="760.6" x2="227.1" y2="778.9"/>
<line x1="252.7" y1="760.6" x2="252.7" y2="778.9"/>
<line x1="284.7" y1="760.6" x2="284.7" y2="778.9"/>
<line x1="316.7" y1="760.6" x2="316.7" y2="778.9"/>
<line x1="348.7" y1="760.6" x2="348.7" y2="778.9"/>
<line x1="380.7" y1="760.6" x2="380.7" y2="778.9"/>
<line x1="406.3" y1="760.6" x2="406.3" y2="778.9"/>
<line x1="438.3" y1="760.6" x2="438.3" y2="778.9"/>
<line x1="470.3" y1="760.6" x2="470.3" y2="778.9"/>
<line x1="502.4" y1="760.6" x2="502.4" y2="778.9"/>
<line x1="534.4" y1="760.6" x2="534.4" y2="778.9"/>
<line x1="566.4" y1="760.6" x2="566.4" y2="778.9"/>
<line x1="598.4" y1="760.6" x2="598.4" y2="778.9"/>
<line x1="630.4" y1="760.6" x2="630.4" y2="778.9"/>
<line x1="662.4" y1="760.6" x2="662.4" y2="778.9"/>
<line x1="688.0" y1="760.6" x2="688.0" y2="778.9"/>
<line x1="720.0" y1="760.6" x2="720.0" y2="778.9"/>
<line x1="752.0" y1="760.6" x2="752.0" y2="778.9"/>
<line x1="784.0" y1="760.6" x2="784.0" y2="778.9"/>
<line x1="816.1" y1="760.6" x2="816.1" y2="778.9"/>
<line x1="841.7" y1="760.6" x2="841.7" y2="778.9"/>
<line x1="873.7" y1="760.6" x2="873.7" y2="778.9"/>
<line x1="905.7" y1="760.6" x2="905.7" y2="778.9"/>
<line x1="937.7" y1="760.6" x2="937.7" y2="778.9"/>
<line x1="969.7" y1="760.6" x2="969.7" y2="778.9"/>
<line x1="1001.7" y1="760.6" x2="1001.7" y2="778.9"/>
<line x1="1033.7" y1="760.6" x2="1033.7" y2="778.9"/>
<line x1="1065.7" y1="760.6" x2="1065.7" y2="778.9"/>
<line x1="1096.9" y1="760.6" x2="1096.9" y2="778.9"/>
<line x1="22.2" y1="760.6" x2="22.2" y2="797" stroke="#222" stroke-width="1.2"/>
<line x1="156.6" y1="760.6" x2="156.6" y2="797" stroke="#222" stroke-width="1.2"/>
<line x1="278.3" y1="760.6" x2="278.3" y2="797" stroke="#222" stroke-width="1.2"/>
<line x1="406.3" y1="760.6" x2="406.3" y2="797" stroke="#222" stroke-width="1.2"/>
<line x1="547.2" y1="760.6" x2="547.2" y2="797" stroke="#222" stroke-width="1.2"/>
<line x1="688.0" y1="760.6" x2="688.0" y2="797" stroke="#222" stroke-width="1.2"/>
<line x1="816.1" y1="760.6" x2="816.1" y2="797" stroke="#222" stroke-width="1.2"/>
<line x1="956.9" y1="760.6" x2="956.9" y2="797" stroke="#222" stroke-width="1.2"/>
<line x1="1096.9" y1="760.6" x2="1096.9" y2="797" stroke="#222" stroke-width="1.2"/>
</g>
<g class="ax">
<text transform="translate(-7.8,776.6) scale(0.87,1)">24</text>
<text transform="translate(17.2,776.6) scale(0.87,1)">31</text>
<text transform="translate(42.8,776.6) scale(0.87,1)">7</text>
<text transform="translate(74.8,776.6) scale(0.87,1)">14</text>
<text transform="translate(106.8,776.6) scale(0.87,1)">22</text>
<text transform="translate(132.4,776.6) scale(0.87,1)">28</text>
<text transform="translate(164.5,776.6) scale(0.87,1)">4</text>
<text transform="translate(196.5,776.6) scale(0.87,1)">11</text>
<text transform="translate(228.5,776.6) scale(0.87,1)">19</text>
<text transform="translate(254.1,776.6) scale(0.87,1)">25</text>
<text transform="translate(286.1,776.6) scale(0.87,1)">4</text>
<text transform="translate(318.1,776.6) scale(0.87,1)">11</text>
<text transform="translate(350.1,776.6) scale(0.87,1)">18</text>
<text transform="translate(382.1,776.6) scale(0.87,1)">25</text>
<text transform="translate(407.7,776.6) scale(0.87,1)">1</text>
<text transform="translate(439.7,776.6) scale(0.87,1)">8</text>
<text transform="translate(471.7,776.6) scale(0.87,1)">15</text>
<text transform="translate(503.8,776.6) scale(0.87,1)">22</text>
<text transform="translate(535.8,776.6) scale(0.87,1)">29</text>
<text transform="translate(567.8,776.6) scale(0.87,1)">6</text>
<text transform="translate(599.8,776.6) scale(0.87,1)">13</text>
<text transform="translate(631.8,776.6) scale(0.87,1)">20</text>
<text transform="translate(663.8,776.6) scale(0.87,1)">28</text>
<text transform="translate(689.4,776.6) scale(0.87,1)">3</text>
<text transform="translate(721.4,776.6) scale(0.87,1)">10</text>
<text transform="translate(753.4,776.6) scale(0.87,1)">17</text>
<text transform="translate(785.4,776.6) scale(0.87,1)">24</text>
<text transform="translate(817.5,776.6) scale(0.87,1)">1</text>
<text transform="translate(843.1,776.6) scale(0.87,1)">8</text>
<text transform="translate(875.1,776.6) scale(0.87,1)">15</text>
<text transform="translate(907.1,776.6) scale(0.87,1)">22</text>
<text transform="translate(939.1,776.6) scale(0.87,1)">29</text>
<text transform="translate(971.1,776.6) scale(0.87,1)">5</text>
<text transform="translate(1003.1,776.6) scale(0.87,1)">12</text>
<text transform="translate(1035.1,776.6) scale(0.87,1)">19</text>
<text transform="translate(1067.1,776.6) scale(0.87,1)">26</text>
<text transform="translate(1098.3,776.6) scale(0.87,1)">3</text>
<text transform="translate(23.7,794.8) scale(0.87,1)">2013</text>
<text transform="translate(158.1,794.8) scale(0.87,1)">February</text>
<text transform="translate(279.8,794.8) scale(0.87,1)">March</text>
<text transform="translate(407.8,794.8) scale(0.87,1)">April</text>
<text transform="translate(548.7,794.8) scale(0.87,1)">May</text>
<text transform="translate(689.5,794.8) scale(0.87,1)">June</text>
<text transform="translate(817.6,794.8) scale(0.87,1)">July</text>
<text transform="translate(958.4,794.8) scale(0.87,1)">August</text>
<text transform="translate(1098.4,794.8) scale(0.87,1)">September</text>
</g>
<text class="ann" x="462.3" y="30.5" textLength="436" lengthAdjust="spacingAndGlyphs">A Middle Section centered on a high forecasts a</text>
<text class="ann" x="462.3" y="56.6" textLength="442.6" lengthAdjust="spacingAndGlyphs">low. Lindsay would not have used this high as it</text>
<text class="ann" x="462.3" y="82.3" textLength="300" lengthAdjust="spacingAndGlyphs">is not the high of the basic cycle.</text>
<text class="date" y="114.0" x="626.1 640.3 649.0 660.5 674.6 683.4 694.8">5/28/13</text>
<text class="date" y="598.4" x="212.3 226.4 235.2 246.7 260.8 269.6 281.0">2/25/13</text>
<text class="ann" x="147" y="630.3" textLength="263" lengthAdjust="spacingAndGlyphs">Point C: the breakdown date</text>
<text class="ann" x="147" y="655.8" textLength="251.5" lengthAdjust="spacingAndGlyphs">from a minor top formation</text>
<text class="date" y="586.8" x="1016.7 1030.9 1039.6 1051.0 1065.2 1074.0 1085.4">8/28/13</text>
<text class="ann" x="985" y="612.7" textLength="99" lengthAdjust="spacingAndGlyphs">Short term</text>
<text class="ann" x="985.3" y="638.6" textLength="109.8" lengthAdjust="spacingAndGlyphs">low forecast</text>
<text class="sm" x="285" y="539.7" textLength="103.3" lengthAdjust="spacingAndGlyphs">Point C: the breakdown date</text>
<text class="sm" x="285" y="549.5" textLength="95.7" lengthAdjust="spacingAndGlyphs">from a minor top formation</text>
</g>
</svg></body></html>
